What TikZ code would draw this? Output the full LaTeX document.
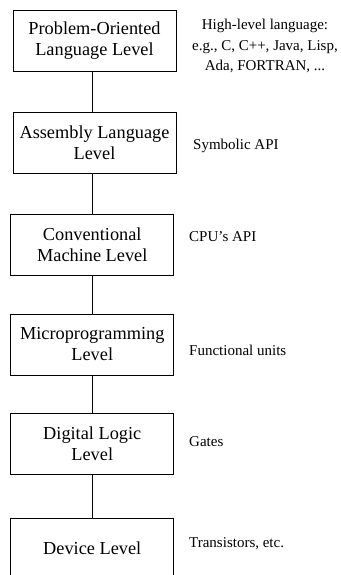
\documentclass[tikz,border=0pt]{standalone}
\usepackage{fontspec}
\setmainfont{Liberation Serif}
\begin{document}
\begin{tikzpicture}[x=1pt,y=-1pt,
  level/.style={draw,line width=0.9pt,minimum width=163pt,minimum height=61pt,
    align=center,inner sep=0pt,font=\fontsize{18.3}{21}\selectfont},
  note/.style={anchor=west,inner sep=0pt,font=\fontsize{15}{20.5}\selectfont},
  link/.style={line width=0.9pt}]
  \useasboundingbox (0,0) rectangle (340,575);
  \clip (0,0) rectangle (340,575);
  % abstraction levels, top to bottom
  \node[level] (pol) at (94.5,40.5) {Problem-Oriented\\Language Level};
  \node[level] (asm) at (94.5,142.5) {Assembly Language\\Level};
  \node[level] (cml) at (92.25,245) {Conventional\\Machine Level};
  \node[level] (mpl) at (92.25,344.5) {Microprogramming\\Level};
  \node[level] (dll) at (92.25,443.5) {Digital Logic\\Level};
  \node[level] (dev) at (92.25,548.5) {Device Level};
  % vertical links between adjacent levels
  \draw[link] (pol.south -| 92,0) -- (asm.north -| 92,0);
  \draw[link] (asm.south -| 92,0) -- (cml.north -| 92,0);
  \draw[link] (cml.south -| 92,0) -- (mpl.north -| 92,0);
  \draw[link] (mpl.south -| 92,0) -- (dll.north -| 92,0);
  \draw[link] (dll.south -| 92,0) -- (dev.north -| 92,0);
  % descriptions beside each level
  \node[note,anchor=center,align=center] (n1) at (265,46)
    {High-level language:\\e.g., C, C++, Java, Lisp,\\Ada, FORTRAN, ...};
  \node[note] (n2) at (193,146) {Symbolic API};
  \node[note] (n3) at (189,237) {CPU’s API};
  \node[note] (n4) at (189,350) {Functional units};
  \node[note] (n5) at (189,442) {Gates};
  \node[note] (n6) at (189,544) {Transistors, etc.};
\end{tikzpicture}
\end{document}
